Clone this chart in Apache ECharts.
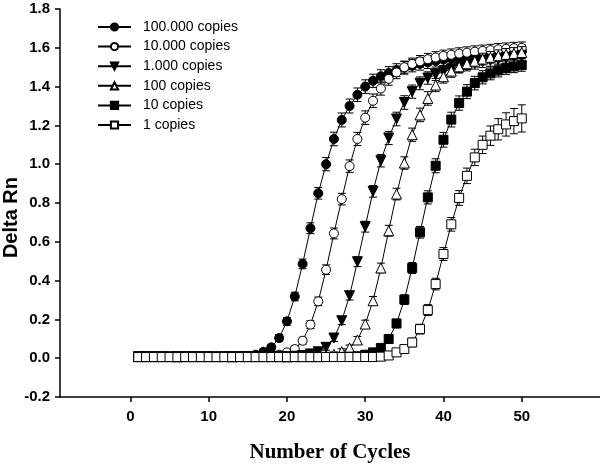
<!DOCTYPE html>
<html>
<head>
<meta charset="utf-8">
<script src="https://cdn.jsdelivr.net/npm/echarts@6/dist/echarts.min.js"></script>
<style>html,body{margin:0;padding:0;background:#fff;}#c{width:600px;height:465px;}</style>
</head>
<body>
<div id="c"></div>
<script>
const cycles = [1,2,3,4,5,6,7,8,9,10,11,12,13,14,15,16,17,18,19,20,21,22,23,24,25,26,27,28,29,30,31,32,33,34,35,36,37,38,39,40,41,42,43,44,45,46,47,48,49,50];
const seriesNames = ['100.000 copies','10.000 copies','1.000 copies','100 copies','10 copies','1 copies'];
const xTickLabels = [0,10,20,30,40,50];

const v100000 = [0.008,0.008,0.007,0.008,0.008,0.007,0.008,0.008,0.008,0.007,0.008,0.008,0.009,0.010,0.012,0.018,0.033,0.056,0.104,0.190,0.318,0.486,0.670,0.850,1.000,1.130,1.228,1.300,1.358,1.400,1.430,1.453,1.470,1.485,1.497,1.508,1.517,1.525,1.532,1.539,1.545,1.551,1.556,1.561,1.566,1.570,1.574,1.578,1.582,1.585];
const v10000 = [0.008,0.008,0.008,0.007,0.008,0.008,0.008,0.007,0.008,0.008,0.008,0.008,0.007,0.008,0.008,0.009,0.010,0.012,0.018,0.030,0.047,0.090,0.173,0.293,0.456,0.643,0.820,0.990,1.130,1.240,1.327,1.390,1.440,1.473,1.500,1.517,1.530,1.541,1.550,1.558,1.564,1.570,1.575,1.580,1.584,1.588,1.592,1.595,1.598,1.600];
const v1000 = [0.008,0.008,0.008,0.008,0.007,0.008,0.008,0.008,0.008,0.008,0.007,0.008,0.008,0.008,0.008,0.008,0.007,0.008,0.008,0.008,0.010,0.014,0.022,0.033,0.056,0.104,0.193,0.322,0.497,0.678,0.860,1.018,1.135,1.233,1.318,1.374,1.417,1.444,1.462,1.477,1.490,1.501,1.511,1.520,1.528,1.535,1.541,1.547,1.552,1.557];
const v100 = [0.008,0.008,0.008,0.008,0.008,0.007,0.008,0.008,0.008,0.008,0.008,0.008,0.007,0.008,0.008,0.008,0.008,0.008,0.008,0.007,0.008,0.008,0.008,0.008,0.012,0.020,0.034,0.053,0.094,0.176,0.296,0.465,0.657,0.846,1.006,1.152,1.254,1.339,1.408,1.451,1.480,1.502,1.518,1.531,1.542,1.551,1.559,1.566,1.571,1.576];
const v10 = [0.007,0.007,0.007,0.007,0.007,0.007,0.007,0.007,0.007,0.007,0.007,0.007,0.007,0.007,0.007,0.007,0.007,0.007,0.007,0.007,0.007,0.007,0.007,0.007,0.007,0.007,0.007,0.008,0.010,0.018,0.030,0.053,0.099,0.179,0.302,0.465,0.649,0.829,0.992,1.126,1.230,1.315,1.374,1.418,1.448,1.468,1.483,1.495,1.504,1.511];
const v1 = [0.006,0.006,0.006,0.006,0.006,0.006,0.006,0.006,0.006,0.006,0.006,0.006,0.006,0.006,0.006,0.006,0.006,0.006,0.006,0.006,0.006,0.006,0.006,0.006,0.006,0.006,0.006,0.006,0.006,0.006,0.006,0.008,0.014,0.030,0.047,0.081,0.150,0.248,0.382,0.537,0.690,0.826,0.940,1.035,1.100,1.147,1.180,1.205,1.222,1.236];

const e100000 = [0.01,0.01,0.01,0.01,0.01,0.01,0.01,0.01,0.01,0.01,0.01,0.01,0.01,0.01,0.01,0.012,0.015,0.015,0.018,0.02,0.022,0.025,0.028,0.03,0.034,0.035,0.036,0.036,0.035,0.035,0.034,0.034,0.033,0.033,0.033,0.032,0.032,0.032,0.031,0.031,0.031,0.03,0.03,0.03,0.03,0.03,0.03,0.03,0.03,0.03];
const e10000 = [0.01,0.01,0.01,0.01,0.01,0.01,0.01,0.01,0.01,0.01,0.01,0.01,0.01,0.01,0.01,0.01,0.01,0.01,0.012,0.015,0.015,0.018,0.02,0.022,0.025,0.028,0.03,0.032,0.034,0.035,0.035,0.034,0.033,0.032,0.031,0.03,0.03,0.03,0.03,0.03,0.03,0.03,0.03,0.03,0.03,0.03,0.03,0.03,0.03,0.03];
const e1000 = [0.01,0.01,0.01,0.01,0.01,0.01,0.01,0.01,0.01,0.01,0.01,0.01,0.01,0.01,0.01,0.01,0.01,0.01,0.01,0.01,0.01,0.01,0.012,0.015,0.015,0.018,0.02,0.022,0.025,0.028,0.03,0.032,0.034,0.035,0.035,0.034,0.033,0.032,0.031,0.03,0.03,0.03,0.03,0.03,0.03,0.03,0.03,0.03,0.03,0.03];
const e100 = [0.01,0.01,0.01,0.01,0.01,0.01,0.01,0.01,0.01,0.01,0.01,0.01,0.01,0.01,0.01,0.01,0.01,0.01,0.01,0.01,0.01,0.01,0.01,0.01,0.01,0.012,0.015,0.015,0.018,0.02,0.022,0.025,0.028,0.03,0.032,0.034,0.035,0.035,0.034,0.033,0.032,0.031,0.03,0.03,0.03,0.03,0.03,0.03,0.03,0.03];
const e10 = [0.01,0.01,0.01,0.01,0.01,0.01,0.01,0.01,0.01,0.01,0.01,0.01,0.01,0.01,0.01,0.01,0.01,0.01,0.01,0.01,0.01,0.01,0.01,0.01,0.01,0.01,0.01,0.01,0.01,0.012,0.015,0.018,0.02,0.022,0.025,0.028,0.03,0.034,0.036,0.038,0.038,0.037,0.036,0.035,0.034,0.033,0.033,0.032,0.032,0.032];
const e1 = [0.01,0.01,0.01,0.01,0.01,0.01,0.01,0.01,0.01,0.01,0.01,0.01,0.01,0.01,0.01,0.01,0.01,0.01,0.01,0.01,0.01,0.01,0.01,0.01,0.01,0.01,0.01,0.01,0.01,0.01,0.01,0.012,0.015,0.018,0.02,0.022,0.025,0.028,0.03,0.033,0.035,0.038,0.04,0.042,0.045,0.05,0.055,0.06,0.065,0.07];

const values = [v100000, v10000, v1000, v100, v10, v1];
const errors = [e100000, e10000, e1000, e100, e10, e1];
const symbols = ['circle','circle','triangle','triangle','rect','rect'];
const rotations = [0,0,180,0,0,0];
const fills = ['#000','#fff','#000','#fff','#000','#fff'];

const series = [];
values.forEach(function(vals, i){
  series.push({
    type: 'custom',
    name: seriesNames[i] + ' err',
    z: 2 + i*2,
    silent: true,
    data: cycles.map(function(c, k){ return [c, vals[k], errors[i][k]]; }),
    encode: {x: 0, y: 1},
    renderItem: function(params, api){
      const x = api.value(0), y = api.value(1), e = api.value(2);
      const t = api.coord([x, y + e]);
      const b = api.coord([x, y - e]);
      const hw = 4;
      const st = {stroke: '#000', lineWidth: 1};
      return {type: 'group', children: [
        {type: 'line', shape: {x1: t[0], y1: t[1], x2: b[0], y2: b[1]}, style: st},
        {type: 'line', shape: {x1: t[0]-hw, y1: t[1], x2: t[0]+hw, y2: t[1]}, style: st},
        {type: 'line', shape: {x1: b[0]-hw, y1: b[1], x2: b[0]+hw, y2: b[1]}, style: st}
      ]};
    }
  });
  series.push({
    type: 'line',
    name: seriesNames[i],
    z: 3 + i*2,
    data: cycles.map(function(c, k){ return [c, vals[k]]; }),
    symbol: symbols[i],
    symbolRotate: rotations[i],
    symbolSize: symbols[i] === 'triangle' ? 10 : 9,
    showAllSymbol: true,
    lineStyle: {color: '#000', width: 1},
    itemStyle: {color: fills[i], borderColor: '#000', borderWidth: 1},
    emphasis: {disabled: true}
  });
});

const chart = echarts.init(document.getElementById('c'), null, {renderer: 'canvas'});
chart.setOption({
  animation: false,
  backgroundColor: '#fff',
  grid: {left: 60, right: 0, top: 9, bottom: 68, containLabel: false},
  legend: {
    data: seriesNames,
    orient: 'vertical',
    left: 97,
    top: 20,
    padding: 0,
    itemWidth: 33,
    itemHeight: 9,
    itemGap: 5.6,
    selectedMode: false,
    textStyle: {fontFamily: 'Liberation Sans, Arial, sans-serif', fontSize: 14, color: '#000', lineHeight: 11, padding: [0,0,0,7]}
  },
  xAxis: {
    type: 'value',
    min: -9,
    max: 60,
    splitLine: {show: false},
    axisLine: {onZero: false, lineStyle: {color: '#000', width: 1.5}},
    axisTick: {show: true, length: 5, customValues: xTickLabels, lineStyle: {color: '#000', width: 1.5}},
    axisLabel: {customValues: xTickLabels, margin: 12, fontFamily: 'Liberation Sans, Arial, sans-serif', fontWeight: 'bold', fontSize: 15, color: '#000'}
  },
  yAxis: {
    type: 'value',
    min: -0.2,
    max: 1.8,
    interval: 0.2,
    splitLine: {show: false},
    axisLine: {show: true, onZero: false, lineStyle: {color: '#000', width: 1.5}},
    axisTick: {show: true, length: 5, lineStyle: {color: '#000', width: 1.5}},
    axisLabel: {margin: 10, fontFamily: 'Liberation Sans, Arial, sans-serif', fontWeight: 'bold', fontSize: 15, color: '#000',
      formatter: function(v){ return v.toFixed(1); }}
  },
  graphic: [
    {type: 'text', left: 1, top: 177, rotation: Math.PI/2, style: {text: 'Delta Rn', x: 0, y: 0, font: 'bold 20px "Liberation Sans", Arial, sans-serif', fill: '#000'}},
    {type: 'text', style: {text: 'Number of Cycles', x: 330, y: 453, textAlign: 'center', textVerticalAlign: 'middle', font: 'bold 21px "Liberation Serif", "Times New Roman", serif', fill: '#000'}}
  ],
  series: series
});
</script>
</body>
</html>
